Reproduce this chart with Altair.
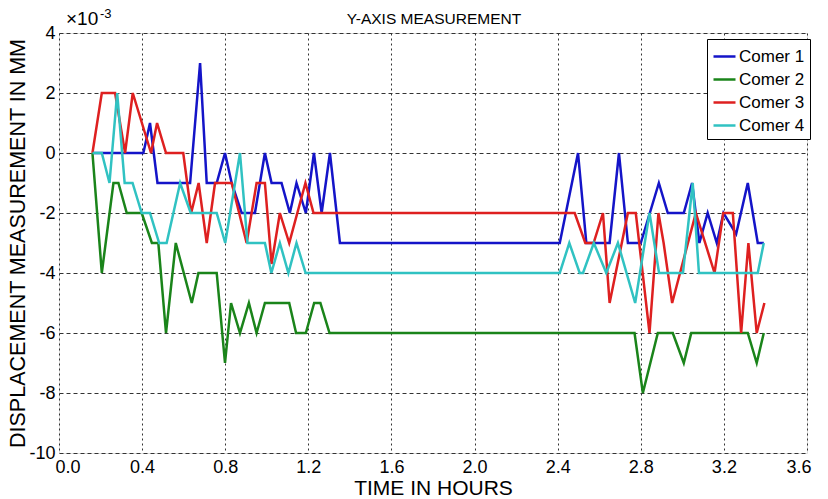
import altair as alt
import pandas as pd

series_names = ["Comer 1", "Comer 2", "Comer 3", "Comer 4"]
series_colors = ["#1414c8", "#1a841a", "#de2020", "#30c2c2"]

c1_hours = [0.161, 0.406, 0.438, 0.474, 0.631, 0.679, 0.711, 0.759, 0.799, 0.831, 0.879, 0.943,
            0.991, 1.023, 1.071, 1.111, 1.143, 1.188, 1.227, 1.264, 1.304, 1.352, 2.41, 2.498,
            2.538, 2.65, 2.695, 2.738, 2.80, 2.887, 2.93, 3.007, 3.047, 3.082, 3.122, 3.166,
            3.198, 3.259, 3.315, 3.363, 3.392]
c1_vals = [0, 0, 1, -1, -1, 3, -1, -1, 0, -1, -2, -2,
           0, -1, -1, -2, -1, -2, 0, -2, 0, -3, -3, 0,
           -3, -3, 0, -3, -3, -1, -2, -2, -1, -3, -2, -3,
           -2, -2.7, -1, -3, -3]

c2_hours = [0.161, 0.206, 0.262, 0.286, 0.326, 0.398, 0.447, 0.478, 0.515, 0.562, 0.639, 0.671,
            0.759, 0.799, 0.828, 0.871, 0.914, 0.951, 0.991, 1.108, 1.141, 1.188, 1.228, 1.258,
            1.302, 2.77, 2.81, 2.882, 2.954, 3.007, 3.043, 3.315, 3.358, 3.392]
c2_vals = [0, -4, -1, -1, -2, -2, -3, -3, -6, -3, -5, -4,
           -4, -7, -5, -6, -5, -6, -5, -5, -6, -6, -5, -5,
           -6, -6, -8, -6, -6, -7, -6, -6, -7, -6]

c3_hours = [0.161, 0.206, 0.27, 0.318, 0.355, 0.443, 0.472, 0.515, 0.598, 0.636, 0.672, 0.711,
            0.751, 0.831, 0.903, 0.951, 0.991, 1.023, 1.063, 1.108, 1.186, 1.225, 2.482, 2.533,
            2.573, 2.618, 2.65, 2.738, 2.776, 2.842, 2.885, 2.91, 2.951, 3.065, 3.155, 3.197,
            3.243, 3.283, 3.318, 3.358, 3.395]
c3_vals = [0, 2, 2, 0, 2, 0, 1, 0, 0, -2, -1, -3,
           -1, -1, -3, -1, -1, -3.7, -2, -3, -1, -2, -2, -3,
           -3, -2, -5, -2, -2, -6, -2, -3, -5, -2, -4, -2,
           -2, -6, -3, -6, -5]

c4_hours = [0.161, 0.206, 0.243, 0.28, 0.316, 0.354, 0.398, 0.438, 0.482, 0.518, 0.583, 0.634,
            0.759, 0.80, 0.871, 0.907, 0.991, 1.022, 1.063, 1.104, 1.143, 1.187, 2.41, 2.456,
            2.506, 2.522, 2.574, 2.634, 2.69, 2.773, 2.842, 2.888, 3.003, 3.05, 3.08, 3.363, 3.392]
c4_vals = [0, 0, -1, 2, -1, -1, -2, -2, -3, -3, -1, -2,
           -2, -3, 0, -3, -3, -4, -3, -4, -3, -4, -4, -3,
           -4, -4, -3, -4, -3, -5, -2, -4, -4, -1, -4, -4, -3]

x_ticks = [0.0, 0.4, 0.8, 1.2, 1.6, 2.0, 2.4, 2.8, 3.2, 3.6]
y_ticks = [-10, -8, -6, -4, -2, 0, 2, 4]

chart_title = "Y-AXIS MEASUREMENT"
x_title = "TIME IN HOURS"
y_title = "DISPLACEMENT MEASUREMENT IN MM"

rows = []
for name, hs, vs in zip(series_names, [c1_hours, c2_hours, c3_hours, c4_hours],
                        [c1_vals, c2_vals, c3_vals, c4_vals]):
    for i, (h, v) in enumerate(zip(hs, vs)):
        rows.append({"series": name, "hour": h, "value": v, "order": i})
df = pd.DataFrame(rows)

FONT = "Liberation Sans"

lines = alt.Chart(df).mark_line(strokeWidth=2.5, clip=True).encode(
    x=alt.X("hour:Q", scale=alt.Scale(domain=[0, 3.6], nice=False, zero=False),
            axis=alt.Axis(values=x_ticks, format=".1f", title=x_title,
                          grid=True, gridDash=[2, 3], gridColor="#333333", gridOpacity=1,
                          ticks=False, domain=False, labelFont=FONT, labelFontSize=18,
                          labelColor="black", labelPadding=5, labelFlush=True,
                          labelFlushOffset=4, titleFont=FONT,
                          titleFontSize=21, titleFontWeight="normal", titleColor="black",
                          titleBaseline="alphabetic", titleY=41)),
    y=alt.Y("value:Q", scale=alt.Scale(domain=[-10, 4], nice=False, zero=False),
            axis=alt.Axis(values=y_ticks, labelExpr="'' + datum.value",
                          title=y_title,
                          grid=True, gridDash=[4, 3], gridColor="#333333", gridOpacity=1,
                          ticks=False, domain=False, labelFont=FONT, labelFontSize=18,
                          labelColor="black", labelPadding=4, titleFont=FONT,
                          titleFontSize=21.5, titleFontWeight="normal", titleColor="black",
                          titleBaseline="alphabetic", titleX=-35)),
    color=alt.Color("series:N", scale=alt.Scale(domain=series_names, range=series_colors),
                    legend=alt.Legend(orient="none", legendX=648, legendY=6, title=None,
                                      strokeColor="black", fillColor="white", padding=5,
                                      symbolType="stroke", symbolSize=484,
                                      symbolStrokeWidth=2.5, labelFont=FONT,
                                      labelFontSize=17, labelColor="black",
                                      rowPadding=2, labelOffset=2, cornerRadius=0)),
    order="order:Q",
)

title_mark = alt.Chart(pd.DataFrame({"t": [chart_title]})).mark_text(
    align="center", baseline="alphabetic", font=FONT, fontSize=15.5, color="black"
).encode(x=alt.value(375), y=alt.value(-9), text="t:N")

exp_main = alt.Chart(pd.DataFrame({"t": ["×10"]})).mark_text(
    align="left", baseline="alphabetic", font=FONT, fontSize=19, color="black"
).encode(x=alt.value(7), y=alt.value(-8), text="t:N")

exp_sup = alt.Chart(pd.DataFrame({"t": ["-3"]})).mark_text(
    align="left", baseline="alphabetic", font=FONT, fontSize=13, color="black"
).encode(x=alt.value(41), y=alt.value(-15), text="t:N")

chart = alt.layer(lines, title_mark, exp_main, exp_sup).properties(
    width=748, height=420,
    autosize=alt.AutoSizeParams(type="none"),
    padding={"left": 59, "top": 33, "right": 21, "bottom": 46},
).configure_view(stroke="black", strokeWidth=1).configure(background="white")

chart.save("out.html", embed_options={"renderer": "svg", "actions": False})
